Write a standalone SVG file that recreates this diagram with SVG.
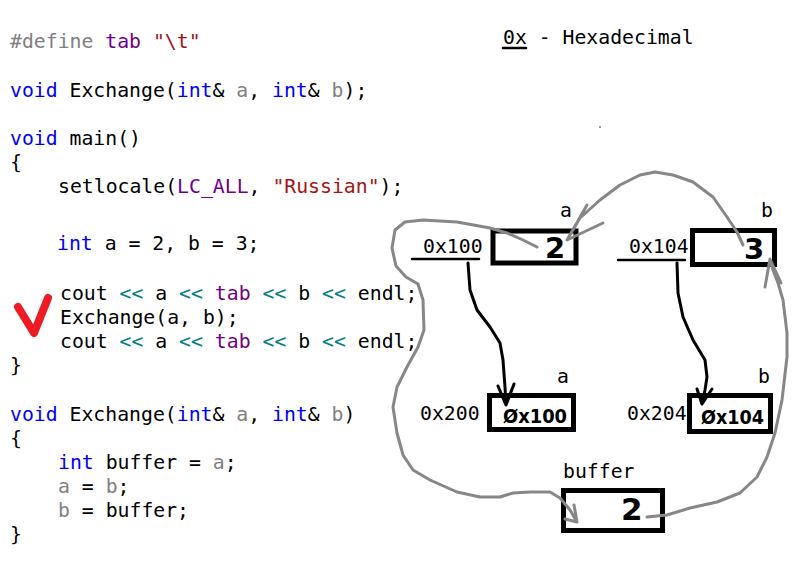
<svg xmlns="http://www.w3.org/2000/svg" width="792" height="562" viewBox="0 0 792 562">
<style>
.code{font-family:"DejaVu Sans Mono","Liberation Mono",monospace;font-size:19.8px;fill:#000}
.kw{fill:#0000ff}.pm{fill:#808080}.mc{fill:#6f008a}.st{fill:#a31515}.op{fill:#008080}
.lbl{font-family:"DejaVu Sans Mono","Liberation Mono",monospace;font-size:19.8px;fill:#000}
.box{fill:#fff;stroke:#000;stroke-width:5}
.hand{font-family:"DejaVu Sans","Liberation Sans",sans-serif;fill:#000}
.gray{fill:none;stroke:#878787;stroke-width:3;stroke-linecap:round;stroke-linejoin:round}
.blk{fill:none;stroke:#000;stroke-width:3;stroke-linecap:round;stroke-linejoin:round}
.ul{stroke:#000;stroke-width:2.5;stroke-linecap:round}
</style>
<rect width="792" height="562" fill="#fff"/>
<g id="code" class="code">
<text x="10" y="48"><tspan class="pm">#define</tspan> <tspan class="mc">tab</tspan> <tspan class="st">"\t"</tspan></text>
<text x="10" y="97"><tspan class="kw">void</tspan> Exchange(<tspan class="kw">int</tspan>&amp; <tspan class="pm">a</tspan>, <tspan class="kw">int</tspan>&amp; <tspan class="pm">b</tspan>);</text>
<text x="10" y="145"><tspan class="kw">void</tspan> main()</text>
<text x="10" y="169">{</text>
<text x="58" y="193">setlocale(<tspan class="mc">LC_ALL</tspan>, <tspan class="st">"Russian"</tspan>);</text>
<text x="57" y="250"><tspan class="kw">int</tspan> a = 2, b = 3;</text>
<text x="60" y="300">cout <tspan class="op">&lt;&lt;</tspan> a <tspan class="op">&lt;&lt;</tspan> <tspan class="mc">tab</tspan> <tspan class="op">&lt;&lt;</tspan> b <tspan class="op">&lt;&lt;</tspan> endl;</text>
<text x="60" y="324">Exchange(a, b);</text>
<text x="60" y="348">cout <tspan class="op">&lt;&lt;</tspan> a <tspan class="op">&lt;&lt;</tspan> <tspan class="mc">tab</tspan> <tspan class="op">&lt;&lt;</tspan> b <tspan class="op">&lt;&lt;</tspan> endl;</text>
<text x="10" y="372">}</text>
<text x="10" y="421"><tspan class="kw">void</tspan> Exchange(<tspan class="kw">int</tspan>&amp; <tspan class="pm">a</tspan>, <tspan class="kw">int</tspan>&amp; <tspan class="pm">b</tspan>)</text>
<text x="10" y="445">{</text>
<text x="58" y="469"><tspan class="kw">int</tspan> buffer = <tspan class="pm">a</tspan>;</text>
<text x="58" y="493"><tspan class="pm">a</tspan> = <tspan class="pm">b</tspan>;</text>
<text x="58" y="517"><tspan class="pm">b</tspan> = buffer;</text>
<text x="10" y="541">}</text>
</g>
<path d="M18,307 L34,333 L48,298" fill="none" stroke="#ed1c24" stroke-width="8" stroke-linecap="round" stroke-linejoin="round"/>
<g id="legend">
<text class="lbl" x="503" y="44">0x - Hexadecimal</text>
<line class="ul" x1="503" y1="48" x2="526" y2="48" stroke-width="1.5"/>
</g>
<rect x="599" y="126" width="2" height="2" fill="#999"/>
<g id="var-a">
<rect class="box" x="493" y="231" width="83" height="32"/>
<text class="lbl" x="560" y="217">a</text>
<text class="lbl" x="423" y="253">0x100</text>
<line class="ul" x1="412" y1="259" x2="479" y2="259"/>
<text class="hand" x="545" y="258" font-size="29" font-weight="bold">2</text>
</g>
<g id="var-b">
<rect class="box" x="692.5" y="230.5" width="82" height="34"/>
<text class="lbl" x="761" y="217">b</text>
<text class="lbl" x="629" y="253">0x104</text>
<line class="ul" x1="618" y1="260" x2="685" y2="260"/>
<text class="hand" x="744" y="259" font-size="29" font-weight="bold">3</text>
</g>
<g id="ref-a">
<rect class="box" x="489.5" y="395.5" width="84" height="34"/>
<text class="lbl" x="557" y="383">a</text>
<text class="lbl" x="420" y="420">0x200</text>
<text class="hand" x="503" y="423" font-size="19" font-weight="bold" textLength="64" lengthAdjust="spacingAndGlyphs">Øx100</text>
</g>
<g id="ref-b">
<rect class="box" x="689.5" y="395.5" width="81" height="36"/>
<text class="lbl" x="758" y="383">b</text>
<text class="lbl" x="627" y="420">0x204</text>
<text class="hand" x="701" y="424" font-size="19" font-weight="bold" textLength="63" lengthAdjust="spacingAndGlyphs">Øx104</text>
</g>
<g id="buffer">
<rect class="box" x="563.5" y="490.5" width="99" height="40"/>
<text class="lbl" x="563" y="478">buffer</text>
<text class="hand" x="621" y="520" font-size="31" font-weight="bold">2</text>
</g>
<g id="connectors">
<path class="blk" d="M468,263 L470,290 L477,310 L490,327 L500,343 L503,360 L505,387 L506,405 M498,386 L506,405 L514,384"/>
<path class="blk" d="M677,263 L678,293 L683,317 L693,340 L705,360 L707,377 L705,390 L702,404 M697,389 L702,404 L712,389"/>
<path class="gray" d="M743,245 L737,232 L727,217 L713,197 L693,182 L673,175 L655,172 L640,175 L620,185 L600,200 L580,218 L567,240 M587,205 L567,240 L603,223"/>
<path class="gray" d="M537,247 L523,240 L507,233 L490,228 L457,222 L423,220 L405,222 L395,230 L392,248 L396,266 L406,277 L418,284 L423,300 L424,330 L418,347 L407,367 L397,387 L393,407 L397,433 L403,455 L413,470 L430,480 L457,492 L480,497 L500,497 L513,493 L530,492 L550,492 L560,498 L570,510 L577,522 M565,519 L577,522 L574,505"/>
<path class="gray" d="M647,517 L667,515 L690,508 L717,502 L740,493 L757,477 L767,457 L775,433 L782,400 L787,357 L787,333 L783,300 L778,283 L773,270 L770,259 M765,287 L770,259 L781,283"/>
</g>
</svg>
